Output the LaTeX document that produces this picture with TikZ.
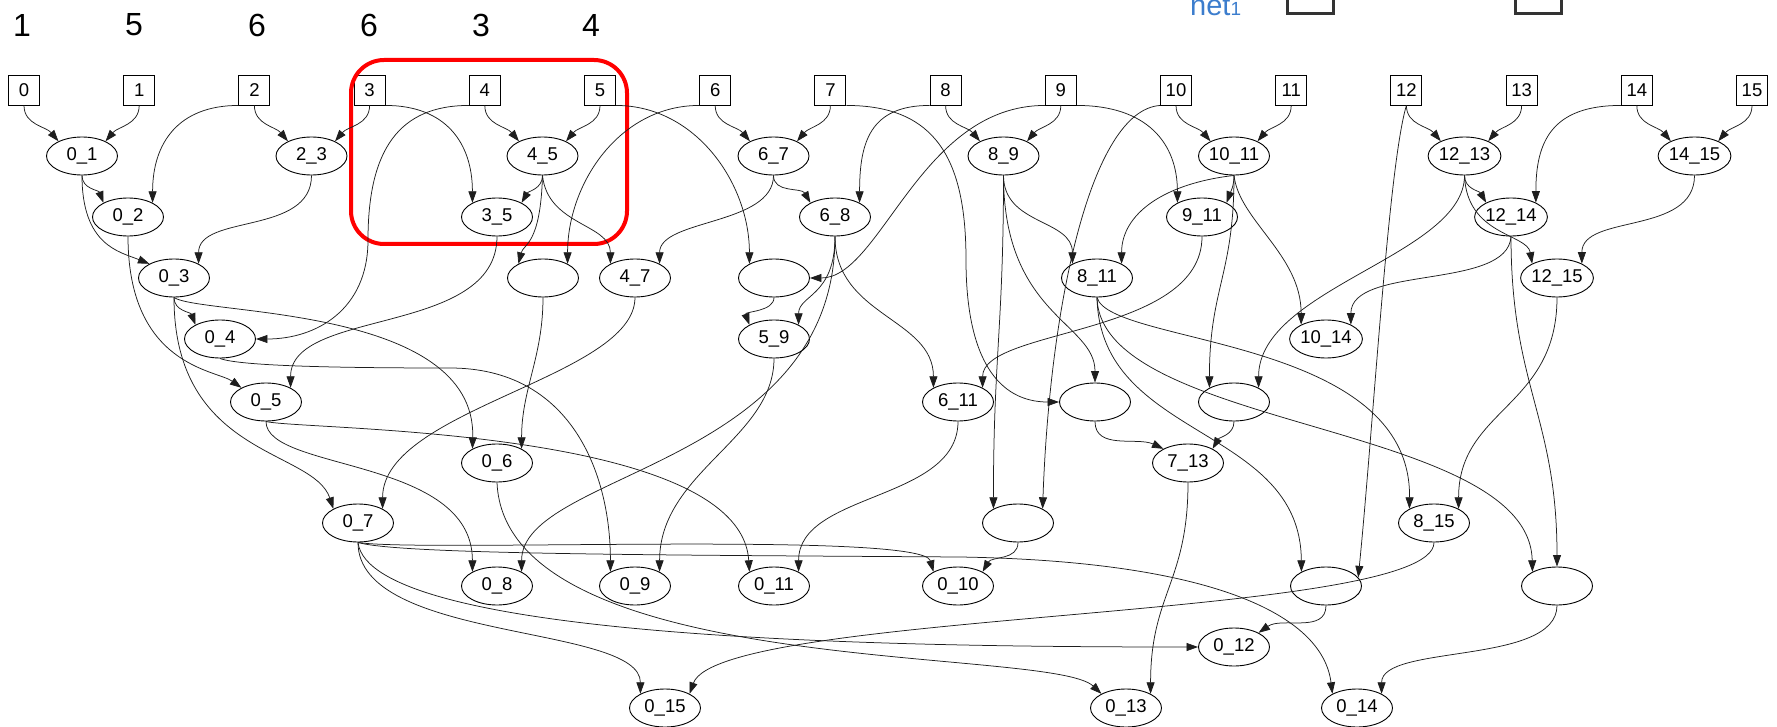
\documentclass[tikz,border=0pt]{standalone}
\usepackage{fontspec}
\setmainfont{Liberation Sans}
\usetikzlibrary{arrows.meta,shapes.geometric}
\definecolor{netblue}{RGB}{60,125,205}
\definecolor{edgegray}{RGB}{30,30,30}
\begin{document}
\begin{tikzpicture}[x=1pt,y=-1pt,
  lbl/.style={font=\fontsize{18.5}{20}\selectfont},
  inbox/.style={draw, line width=0.9pt, minimum width=31pt, minimum height=30pt, inner sep=0pt, lbl},
  ell/.style={draw, ellipse, line width=0.9pt, minimum width=71pt, minimum height=38pt, inner sep=0pt, lbl},
  e/.style={draw=edgegray, line width=0.75pt, -{Triangle[length=11.5pt,width=8pt]}},
  topnum/.style={font=\fontsize{32}{34}\selectfont, inner sep=0pt}
]
\clip (0,0) rectangle (1777,727);
\useasboundingbox (0,0) rectangle (1777,727);
% top row of numbers
\node[topnum] (t0) at (22,25) {1};
\node[topnum] (t1) at (134,25) {5};
\node[topnum] (t2) at (257,25) {6};
\node[topnum] (t3) at (369,25) {6};
\node[topnum] (t4) at (481,25) {3};
\node[topnum] (t5) at (591,25) {4};
% legend fragment
\node[text=netblue, font=\fontsize{29}{30}\selectfont, anchor=base west, inner sep=0pt] (net) at (1190,16) {net{\fontsize{19}{19}\selectfont 1}};
\draw[line width=3pt, draw=black!80] (1287,-40) rectangle (1333,13.5);
\draw[line width=3pt, draw=black!80] (1515,-40) rectangle (1561,13.5);
% input boxes
\foreach \i in {0,...,15} \node[inbox] (b\i) at ({24+115.2*\i},90) {\i};
% ellipses
\node[ell] (n01) at (82,156) {0\_1};
\node[ell] (n23) at (311.5,156) {2\_3};
\node[ell] (n45) at (542.5,156) {4\_5};
\node[ell] (n67) at (773.5,156) {6\_7};
\node[ell] (n89) at (1003.5,156) {8\_9};
\node[ell] (n1011) at (1234,156) {10\_11};
\node[ell] (n1213) at (1464.5,156) {12\_13};
\node[ell] (n1415) at (1694.5,156) {14\_15};
\node[ell] (n02) at (128,217) {0\_2};
\node[ell] (n35) at (497,217) {3\_5};
\node[ell] (n68) at (835,217) {6\_8};
\node[ell] (n911) at (1202,217) {9\_11};
\node[ell] (n1214) at (1511,217) {12\_14};
\node[ell] (n03) at (174,278) {0\_3};
\node[ell] (n46) at (543,278) {};
\node[ell] (n47) at (635,278) {4\_7};
\node[ell] (n59a) at (774,278) {};
\node[ell] (n811) at (1097,278) {8\_11};
\node[ell] (n1215) at (1557,278) {12\_15};
\node[ell] (n04) at (220,339) {0\_4};
\node[ell] (n59) at (774,339) {5\_9};
\node[ell] (n1014) at (1326,339) {10\_14};
\node[ell] (n05) at (266,402) {0\_5};
\node[ell] (n611) at (958,402) {6\_11};
\node[ell] (n79) at (1095,402) {};
\node[ell] (n1013) at (1234,402) {};
\node[ell] (n06) at (497,463) {0\_6};
\node[ell] (n713) at (1188,463) {7\_13};
\node[ell] (n07) at (358,523) {0\_7};
\node[ell] (n810) at (1018,523) {};
\node[ell] (n815) at (1434,523) {8\_15};
\node[ell] (n08) at (497,586) {0\_8};
\node[ell] (n09) at (635,586) {0\_9};
\node[ell] (n011) at (774,586) {0\_11};
\node[ell] (n010) at (958,586) {0\_10};
\node[ell] (n812) at (1326,586) {};
\node[ell] (n814) at (1557,586) {};
\node[ell] (n012) at (1234,647) {0\_12};
\node[ell] (n015) at (665,708) {0\_15};
\node[ell] (n013) at (1126,708) {0\_13};
\node[ell] (n014) at (1357,708) {0\_14};
% highlight
\draw[red, line width=4pt, rounded corners=33pt] (351,60) rectangle (627,244);
% box -> pair edges
\foreach \a/\b/\p in {0/1/01, 2/3/23, 4/5/45, 6/7/67, 8/9/89, 10/11/1011, 12/13/1213, 14/15/1415} {
  \draw[e] (b\a.south) to[out=-90,in=130] (n\p.148);
  \draw[e] (b\b.south) to[out=-90,in=50] (n\p.32);
}
% long edges from boxes
\draw[e] (b2.south west) .. controls +(-60,0) and +(0,-60) .. (n02.30);
\draw[e] (b3.south east) .. controls +(60,0) and +(0,-60) .. (n35.150);
\draw[e] (b4.south west) .. controls +(-70,0) and +(0,-90) .. (368,240) .. controls +(0,70) and +(60,0) .. (n04.east);
\draw[e] (b5.south east) .. controls +(80,0) and +(0,-80) .. (n59a.150);
\draw[e] (b6.south west) .. controls +(-80,0) and +(0,-80) .. (n46.30);
\draw[e] (b7.south east) .. controls +(90,0) and +(0,-100) .. (966,260) .. controls +(0,100) and +(-60,0) .. (n79.west);
\draw[e] (b8.south west) .. controls +(-60,0) and +(0,-60) .. (n68.30);
\draw[e] (b9.south west) .. controls +(-125,0) and +(71,0) .. (n59a.east);
\draw[e] (b9.south east) .. controls +(70,0) and +(0,-60) .. (n911.150);
\draw[e] (b10.south west) .. controls +(-70,5) and +(7,-200) .. (n810.30);
\draw[e] (b12.south) .. controls +(-18,60) and +(15,-150) .. (n812.15);
\draw[e] (b14.south west) .. controls +(-70,0) and +(0,-60) .. (n1214.30);
% row 1 outputs
\draw[e] (n01.south) to[out=-90,in=110] (n02.150);
\draw[e] (n01.south) .. controls +(0,70) and +(-30,-12) .. (n03.150);
\draw[e] (n23.south) .. controls +(0,60) and +(0,-50) .. (n03.30);
\draw[e] (n45.south) to[out=-90,in=60] (n35.30);
\draw[e] (n45.south) .. controls +(-2,70) and +(5,-20) .. (n46.150);
\draw[e] (n45.south) .. controls +(5,50) and +(0,-40) .. (n47.150);
\draw[e] (n67.south) to[out=-90,in=120] (n68.150);
\draw[e] (n67.south) .. controls +(0,50) and +(0,-45) .. (n47.30);
\draw[e] (n89.south) .. controls +(0,50) and +(0,-45) .. (n811.150);
\draw[e] (n89.south) .. controls +(0,150) and +(0,-150) .. (n810.150);
\draw[e] (n89.south) .. controls +(0,140) and +(0,-60) .. (n79.north);
\draw[e] (n1011.south) to[out=-90,in=70] (n911.30);
\draw[e] (n1011.south) .. controls +(-70,8) and +(0,-50) .. (n811.30);
\draw[e] (n1011.south) .. controls +(5,45) and +(0,-70) .. (n1014.150);
\draw[e] (n1011.south) .. controls +(0,100) and +(0,-100) .. (n1013.150);
\draw[e] (n1213.south) to[out=-90,in=120] (n1214.150);
\draw[e] (n1213.south) .. controls +(2,60) and +(-5,-30) .. (n1215.150);
\draw[e] (n1213.south) .. controls +(0,80) and +(0,-100) .. (n1013.30);
\draw[e] (n1415.south) .. controls +(0,60) and +(0,-50) .. (n1215.30);
% row 2/3 outputs
\draw[e] (n02.south) .. controls +(0,130) and +(-25,-18) .. (n05.150);
\draw[e] (n35.south) .. controls +(0,100) and +(0,-80) .. (n05.30);
\draw[e] (n03.south) to[out=-90,in=110] (n04.150);
\draw[e] (n03.south) .. controls +(26,18) and +(4,-144) .. (n06.150);
\draw[e] (n03.south) .. controls +(0,160) and +(-20,-60) .. (n07.150);
\draw[e] (n46.south) .. controls +(0,60) and +(0,-60) .. (n06.30);
\draw[e] (n47.south) .. controls +(0,80) and +(0,-100) .. (n07.30);
\draw[e] (n59a.south) to[out=-90,in=110] (n59.150);
\draw[e] (n68.south) .. controls +(0,60) and +(0,-30) .. (n59.30);
\draw[e] (n68.south) .. controls +(0,80) and +(0,-70) .. (n611.150);
\draw[e] (n68.south) .. controls +(0,230) and +(0,-100) .. (n08.30);
\draw[e] (n911.south) .. controls +(0,100) and +(0,-60) .. (n611.30);
\draw[e] (n811.south) .. controls +(13,48) and +(2,-173) .. (n815.150);
\draw[e] (n811.south) .. controls +(3,143) and +(-1,-147) .. (n812.150);
\draw[e] (n811.south) .. controls +(3,133) and +(-3,-150) .. (n814.150);
\draw[e] (n1214.south) .. controls +(-3,54) and +(0,-60) .. (n1014.30);
\draw[e] (n1214.south) .. controls +(0,150) and +(0,-150) .. (n814.north);
\draw[e] (n1215.south) .. controls +(0,110) and +(0,-100) .. (n815.30);
% lower rows
\draw[e] (n04.south) .. controls +(20,8) and +(-100,0) .. (450,368) .. controls +(120,0) and +(0,-100) .. (n09.150);
\draw[e] (n05.south) .. controls +(0,50) and +(0,-115) .. (n08.150);
\draw[e] (n05.south) .. controls +(34,9) and +(-9,-146) .. (n011.150);
\draw[e] (n59.south) .. controls +(0,80) and +(0,-100) .. (n09.30);
\draw[e] (n611.south) .. controls +(0,80) and +(0,-80) .. (n011.30);
\draw[e] (n79.south) to[out=-90,in=155] (n713.150);
\draw[e] (n1013.south) to[out=-90,in=60] (n713.30);
\draw[e] (n06.south) .. controls +(8,198) and +(-51,-48) .. (n013.150);
\draw[e] (n713.south) .. controls +(0,100) and +(0,-100) .. (n013.30);
\draw[e] (n07.south) .. controls +(62,10) and +(-11,-41) .. (n010.150);
\draw[e] (n07.south) .. controls +(12,98) and +(-298,0) .. (n012.west);
\draw[e] (n07.south) .. controls +(40,12) and +(-300,-2) .. (960,557) .. controls +(250,4) and +(-10,-80) .. (n014.150);
\draw[e] (n07.south) .. controls +(0,100) and +(0,-70) .. (n015.150);
\draw[e] (n810.south) to[out=-90,in=60] (n010.30);
\draw[e] (n815.south) .. controls +(0,78) and +(30,-84) .. (n015.30);
\draw[e] (n812.south) to[out=-90,in=35] (n012.30);
\draw[e] (n814.south) .. controls +(0,60) and +(0,-50) .. (n014.30);
\end{tikzpicture}
\end{document}
